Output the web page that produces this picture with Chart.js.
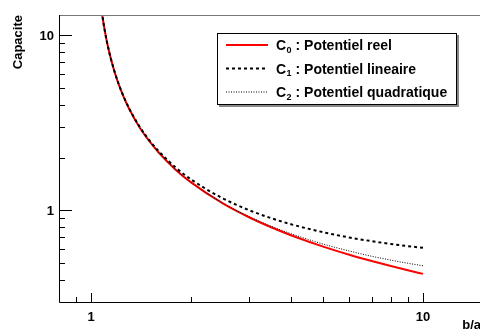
<!DOCTYPE html>
<html>
<head>
<meta charset="utf-8">
<script src="https://cdn.jsdelivr.net/npm/chart.js@4/dist/chart.umd.min.js"></script>
<style>
  html, body { margin: 0; padding: 0; background: #fff; }
  #wrap { width: 480px; height: 331px; }
</style>
</head>
<body>
<div id="wrap"><canvas id="capa" width="480" height="331"></canvas></div>
<script>
// b/a values and capacitance
var ratios = [1.07, 1.08, 1.1, 1.12, 1.15, 1.2, 1.25, 1.3, 1.4, 1.5, 1.6, 1.8, 2, 2.5, 3, 3.5, 4, 5, 6, 7, 8, 9, 10];
var c0Reel = [14.78, 12.99, 10.49, 8.82, 7.16, 5.48, 4.48, 3.81, 2.97, 2.47, 2.13, 1.70, 1.443, 1.091, 0.910, 0.798, 0.721, 0.621, 0.558, 0.514, 0.481, 0.455, 0.434];
var c1Lineaire = [14.79, 13.0, 10.5, 8.83, 7.17, 5.5, 4.5, 3.83, 3.0, 2.5, 2.17, 1.75, 1.5, 1.167, 1.0, 0.9, 0.833, 0.75, 0.70, 0.667, 0.643, 0.625, 0.611];
var c2Quadratique = [14.78, 12.99, 10.49, 8.82, 7.16, 5.48, 4.48, 3.81, 2.97, 2.47, 2.13, 1.70, 1.445, 1.096, 0.918, 0.809, 0.736, 0.642, 0.586, 0.547, 0.520, 0.499, 0.483];

var seriesNames = ["Potentiel reel", "Potentiel lineaire", "Potentiel quadratique"];

var xMajorTicks = [1, 10];
var xMinorTicks = [0.9, 2, 3, 4, 5, 6, 7, 8, 9];
var yMajorTicks = [1, 10];
var yMinorTicks = [0.4, 0.5, 0.6, 0.7, 0.8, 0.9, 2, 3, 4, 5, 6, 7, 8, 9];

function toPoints(values) {
    return ratios.map(function (r, i) { return { x: r, y: values[i] }; });
}

var FONT = 'bold 13px "Liberation Sans", Arial, sans-serif';
var LEG_FONT = 'bold 14px "Liberation Sans", Arial, sans-serif';
var SUB_FONT = 'bold 9px "Liberation Sans", Arial, sans-serif';

// ROOT-like frame, inward ticks, titles and legend box
var rootStyle = {
    id: 'rootStyle',
    afterDraw: function (chart) {
        var ctx = chart.ctx;
        var a = chart.chartArea;
        var xs = chart.scales.x, ys = chart.scales.y;
        ctx.save();

        // frame
        ctx.lineWidth = 1;
        ctx.strokeStyle = '#777';
        ctx.beginPath();
        ctx.moveTo(a.left, a.top + 0.5);
        ctx.lineTo(a.right, a.top + 0.5);
        ctx.stroke();
        ctx.strokeStyle = '#000';
        ctx.beginPath();
        ctx.moveTo(a.left + 0.5, a.top);
        ctx.lineTo(a.left + 0.5, a.bottom + 0.5);
        ctx.lineTo(a.right, a.bottom + 0.5);
        ctx.stroke();

        // x ticks
        ctx.beginPath();
        xMajorTicks.forEach(function (v) {
            var px = Math.round(xs.getPixelForValue(v)) + 0.5;
            ctx.moveTo(px, a.bottom);
            ctx.lineTo(px, a.bottom - 9);
        });
        xMinorTicks.forEach(function (v) {
            var px = Math.round(xs.getPixelForValue(v)) + 0.5;
            ctx.moveTo(px, a.bottom);
            ctx.lineTo(px, a.bottom - 5);
        });
        // y ticks
        yMajorTicks.forEach(function (v) {
            var py = Math.round(ys.getPixelForValue(v)) + 0.5;
            ctx.moveTo(a.left, py);
            ctx.lineTo(a.left + 13, py);
        });
        yMinorTicks.forEach(function (v) {
            var py = Math.round(ys.getPixelForValue(v)) + 0.5;
            ctx.moveTo(a.left, py);
            ctx.lineTo(a.left + 6, py);
        });
        ctx.stroke();

        // tick labels
        ctx.fillStyle = '#000';
        ctx.font = FONT;
        ctx.textBaseline = 'alphabetic';
        ctx.textAlign = 'center';
        xMajorTicks.forEach(function (v) {
            ctx.fillText(String(v), xs.getPixelForValue(v), a.bottom + 19);
        });
        ctx.textAlign = 'right';
        yMajorTicks.forEach(function (v) {
            ctx.fillText(String(v), a.left - 5, ys.getPixelForValue(v) + 5);
        });

        // axis titles
        ctx.textAlign = 'right';
        ctx.fillText('b/a', 481, 329);
        ctx.save();
        ctx.translate(22, a.top);
        ctx.rotate(-Math.PI / 2);
        ctx.textAlign = 'right';
        ctx.fillText('Capacite', 0, 0);
        ctx.restore();

        // legend
        var bx = 217, by = 33, bw = 240, bh = 72;
        ctx.fillStyle = '#888';
        ctx.fillRect(bx + 2, by + 2, bw, bh);
        ctx.fillStyle = '#fff';
        ctx.fillRect(bx, by, bw, bh);
        ctx.strokeStyle = '#000';
        ctx.lineWidth = 1;
        ctx.strokeRect(bx + 0.5, by + 0.5, bw - 1, bh - 1);

        chart.data.datasets.forEach(function (ds, i) {
            var rowY = by + 12 + i * 23.5;
            ctx.save();
            ctx.strokeStyle = ds.borderColor;
            ctx.lineWidth = ds.borderWidth;
            ctx.setLineDash(ds.borderDash || []);
            ctx.beginPath();
            ctx.moveTo(226, rowY);
            ctx.lineTo(268, rowY);
            ctx.stroke();
            ctx.restore();

            ctx.fillStyle = '#000';
            ctx.textAlign = 'left';
            ctx.font = LEG_FONT;
            var tx = 276;
            ctx.fillText('C', tx, rowY + 5);
            tx += ctx.measureText('C').width + 0.5;
            ctx.font = SUB_FONT;
            ctx.fillText(String(i), tx, rowY + 7.5);
            tx += ctx.measureText(String(i)).width;
            ctx.font = LEG_FONT;
            ctx.fillText(' : ' + seriesNames[i], tx, rowY + 5);
        });

        ctx.restore();
    }
};

new Chart(document.getElementById("capa").getContext("2d"), {
    type: 'line',
    data: {
        datasets: [{
            label: "C0 : " + seriesNames[0],
            data: toPoints(c0Reel),
            borderColor: '#ff0000',
            borderWidth: 2,
            order: 3
        }, {
            label: "C1 : " + seriesNames[1],
            data: toPoints(c1Lineaire),
            borderColor: '#000000',
            borderWidth: 2,
            borderDash: [3, 3],
            order: 2
        }, {
            label: "C2 : " + seriesNames[2],
            data: toPoints(c2Quadratique),
            borderColor: '#000000',
            borderWidth: 1,
            borderDash: [1, 1.5],
            order: 1
        }]
    },
    options: {
        responsive: false,
        animation: false,
        devicePixelRatio: 1,
        layout: { padding: { left: 59, top: 15, right: 0, bottom: 29 } },
        elements: {
            point: { radius: 0 },
            line: { cubicInterpolationMode: 'monotone', fill: false }
        },
        scales: {
            x: { type: 'logarithmic', min: 0.8, max: 14.85, display: false },
            y: { type: 'logarithmic', min: 0.3, max: 13, display: false }
        },
        plugins: {
            legend: { display: false },
            tooltip: { enabled: false }
        }
    },
    plugins: [rootStyle]
});
</script>
</body>
</html>
